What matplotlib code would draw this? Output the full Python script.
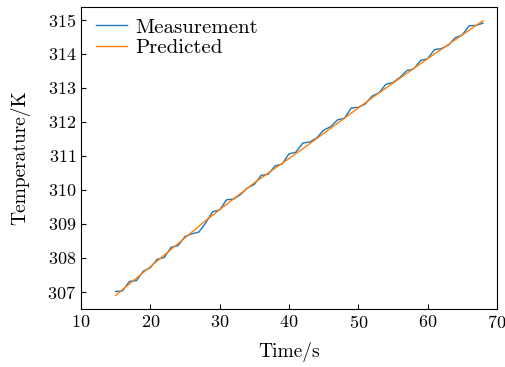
import matplotlib
matplotlib.use('Agg')
import matplotlib.pyplot as plt

plt.rcParams['font.family'] = 'serif'
plt.rcParams['font.serif'] = ['cmr10']
plt.rcParams['mathtext.fontset'] = 'cm'
plt.rcParams['axes.formatter.use_mathtext'] = True

time_meas = [15, 16, 17, 18, 19, 20, 21, 22, 23, 24, 25, 26, 27, 28, 29, 30, 31, 32,
             33, 34, 35, 36, 37, 38, 39, 40, 41, 42, 43, 44, 45, 46, 47, 48, 49, 50,
             51, 52, 53, 54, 55, 56, 57, 58, 59, 60, 61, 62, 63, 64, 65, 66, 67, 68]
temp_meas = [307.0, 307.02, 307.3, 307.32, 307.6, 307.7, 307.95, 308.0, 308.3, 308.35,
             308.62, 308.7, 308.75, 309.02, 309.35, 309.4, 309.7, 309.72, 309.85, 310.05,
             310.15, 310.42, 310.45, 310.7, 310.75, 311.05, 311.1, 311.37, 311.4, 311.52,
             311.75, 311.85, 312.05, 312.1, 312.4, 312.42, 312.52, 312.75, 312.85, 313.1,
             313.15, 313.3, 313.5, 313.55, 313.8, 313.85, 314.12, 314.15, 314.25, 314.47,
             314.55, 314.82, 314.83, 314.9]

# fitted curve (slightly concave)
time_pred = [15, 20, 28, 35, 42, 52, 60, 68]
temp_pred = [306.89, 307.73, 309.09, 310.2, 311.2, 312.7, 313.85, 314.97]

fig = plt.figure(figsize=(5.06, 3.67), dpi=100)
ax = fig.add_axes([0.160, 0.158, 0.822, 0.823])
ax.plot(time_meas, temp_meas, color='#1f77b4', lw=1.0, label='Measurement')
ax.plot(time_pred, temp_pred, color='#ff7f0e', lw=1.0, label='Predicted')
ax.set_xlim(10, 70)
ax.set_xticks([10, 20, 30, 40, 50, 60, 70])
ax.set_yticks([307, 308, 309, 310, 311, 312, 313, 314, 315])
ax.tick_params(direction='in', labelsize=13)
ax.set_xlabel('Time/s', fontsize=14, labelpad=8)
ax.set_ylabel('Temperature/K', fontsize=14, labelpad=12)
ax.legend(loc='upper left', bbox_to_anchor=(0.005, 1.005), frameon=False,
          fontsize=15, handlelength=1.5, handletextpad=0.4, borderpad=0.1,
          labelspacing=0.1)

fig.savefig('out.png', dpi=100)
